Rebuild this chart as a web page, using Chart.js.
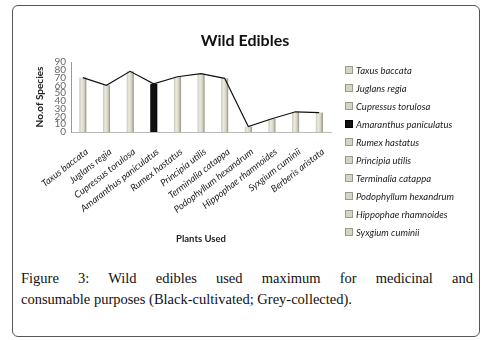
<!DOCTYPE html>
<html>
<head>
<meta charset="utf-8">
<script src="https://cdn.jsdelivr.net/npm/chart.js@4/dist/chart.umd.min.js"></script>
<style>
  html, body { margin: 0; padding: 0; background: #fff; }
  body { width: 488px; height: 340px; position: relative; overflow: hidden; }
  #frame {
    position: absolute; left: 12px; top: 5px; width: 468px; height: 332px;
    box-sizing: border-box; border: 1px solid #555; border-radius: 6px;
  }
  #plot { position: absolute; left: 0; top: 0; }
  #title {
    position: absolute; left: 145px; width: 200px; top: 30px; text-align: center;
    font-family: Lato, sans-serif; font-weight: bold; font-size: 16px; color: #111;
  }
  #legend {
    position: absolute; left: 345px; top: 64px; margin: 0; padding: 0;
    list-style: none; font-family: Lato, sans-serif; font-style: italic;
    font-size: 9.5px; color: #222;
  }
  #legend li { height: 18px; line-height: 14px; white-space: nowrap; }
  #legend .swatch {
    display: inline-block; width: 6px; height: 6px; margin-right: 3px;
    border: 1px solid #9d9b8b; vertical-align: 0px;
  }
  #caption {
    position: absolute; left: 21px; top: 268px; width: 452px;
    font-family: "Liberation Serif", serif; font-size: 14.5px; line-height: 21px;
    color: #111;
  }
  #caption .first { text-align: justify; text-align-last: justify; }
</style>
</head>
<body>
<div id="frame"></div>
<canvas id="plot" width="488" height="250"></canvas>
<div id="title">Wild Edibles</div>
<ul id="legend"></ul>
<div id="caption"><div class="first">Figure 3: Wild edibles used maximum for medicinal and</div><div>consumable purposes (Black-cultivated; Grey-collected).</div></div>
<script>
"use strict";

// Plants and number of species using them
const plants = [
  "Taxus baccata", "Juglans regia", "Cupressus torulosa", "Amaranthus paniculatus",
  "Rumex hastatus", "Principia utilis", "Terminalia catappa", "Podophyllum hexandrum",
  "Hippophae rhamnoides", "Syxgium cuminii", "Berberis aristata",
];
const species = [70, 60, 78, 62, 71, 75, 69, 7, 17, 26, 25];
// true = cultivated (black), false = collected (grey)
const cultivated = [false, false, false, true, false, false, false, false, false, false, false];
const yMax = 90;
const yStep = 10;

const greyFill = "#d6d4c4";
const greyEdge = "#a3a190";
const blackFill = "#111111";

// Legend only lists the first ten plants
const legendEl = document.getElementById("legend");
plants.slice(0, 10).forEach((name, i) => {
  const li = document.createElement("li");
  const sw = document.createElement("span");
  sw.className = "swatch";
  sw.style.background = cultivated[i] ? blackFill : greyFill;
  if (cultivated[i]) sw.style.borderColor = "#000";
  li.appendChild(sw);
  li.appendChild(document.createTextNode(name));
  legendEl.appendChild(li);
});

// Shaded bar fill so the grey columns look slightly rounded
function barFill(ctx) {
  if (cultivated[ctx.dataIndex]) return blackFill;
  const chart = ctx.chart;
  const xScale = chart.scales.x;
  if (!xScale) return greyFill;
  const cx = xScale.getPixelForValue(ctx.dataIndex);
  if (!Number.isFinite(cx)) return greyFill;
  const g = chart.ctx.createLinearGradient(cx - 3.5, 0, cx + 3.5, 0);
  g.addColorStop(0, "#c9c7b6");
  g.addColorStop(0.35, "#ecebe0");
  g.addColorStop(0.7, "#d3d1c1");
  g.addColorStop(1, "#9e9c8b");
  return g;
}

const labelFont = { family: "Lato, sans-serif", size: 9.5, style: "italic" };

new Chart(document.getElementById("plot"), {
  data: {
    labels: plants,
    datasets: [
      {
        type: "line",
        data: species,
        borderColor: "#111",
        borderWidth: 1.2,
        pointRadius: 0,
        tension: 0,
        order: 0,
      },
      {
        type: "bar",
        data: species,
        backgroundColor: barFill,
        borderColor: (c) => (cultivated[c.dataIndex] ? "#000" : greyEdge),
        borderWidth: { left: 0, right: 1, top: 0, bottom: 0 },
        barThickness: 7,
        order: 1,
      },
    ],
  },
  options: {
    responsive: false,
    animation: false,
    layout: { padding: { left: 34, right: 157, top: 62, bottom: 5 } },
    plugins: {
      legend: { display: false },
      tooltip: { enabled: false },
    },
    scales: {
      x: {
        grid: { display: false, drawTicks: false },
        border: { color: "#bbb" },
        ticks: {
          color: "#222",
          font: labelFont,
          minRotation: 38,
          maxRotation: 38,
          autoSkip: false,
          padding: 14,
          labelOffset: 4,
        },
        title: {
          display: true,
          text: "Plants Used",
          color: "#222",
          font: { family: "Lato, sans-serif", size: 9.5, weight: "bold" },
          padding: { top: 0, bottom: 0 },
        },
        afterFit(scale) { scale.height = 113; },
      },
      y: {
        min: 0,
        max: yMax,
        grid: { display: false, drawTicks: true, tickLength: 3, tickColor: "#999" },
        border: { color: "#999" },
        ticks: {
          stepSize: yStep,
          autoSkip: false,
          color: "#666",
          font: { family: "Lato, sans-serif", size: 10, lineHeight: 1 },
          padding: 2,
        },
        title: {
          display: true,
          text: "No.of Species",
          color: "#222",
          font: { family: "Lato, sans-serif", size: 10, weight: "bold" },
          padding: { top: 0, bottom: 0 },
        },
        afterFit(scale) { scale.width = 37; },
      },
    },
  },
});
</script>
</body>
</html>
